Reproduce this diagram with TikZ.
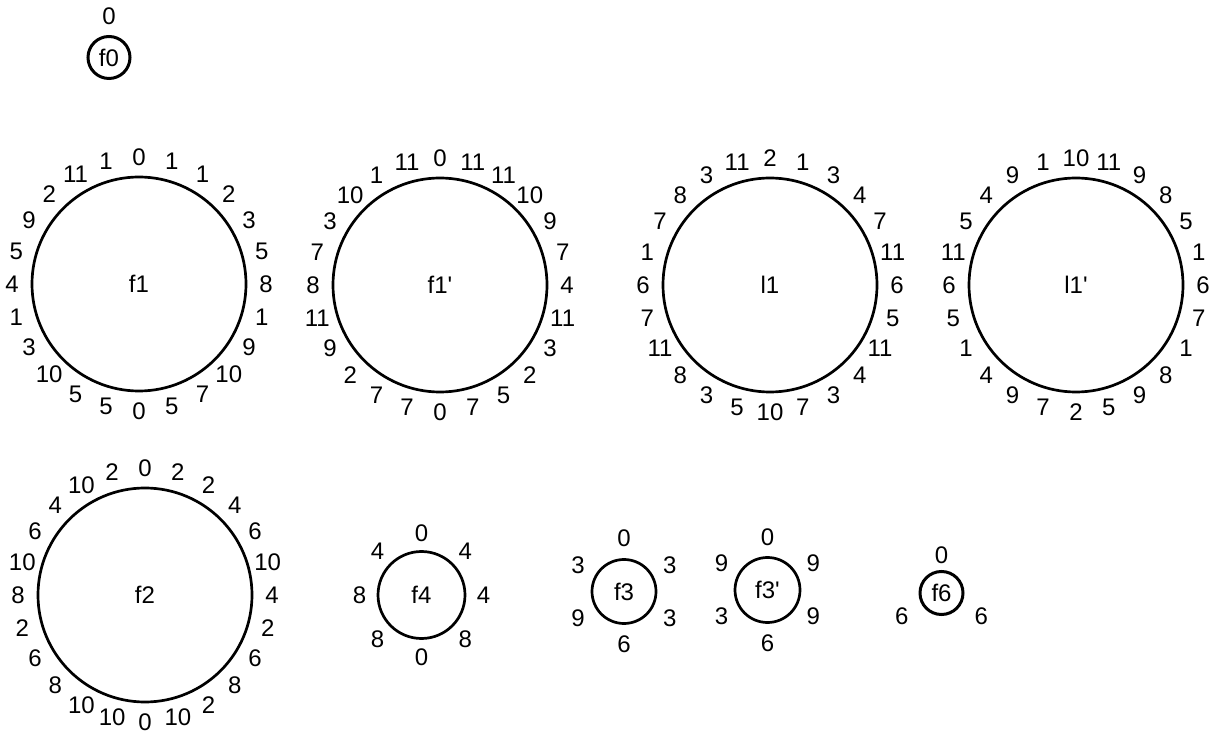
\documentclass[tikz,border=0pt]{standalone}
\usepackage{fontspec}
\setmainfont{Liberation Sans}
\usetikzlibrary{calc}
\tikzset{
  ringc/.style={circle, draw, line width=2.7pt, minimum size=#1, inner sep=0pt, font=\fontsize{24}{24}\selectfont},
  lab/.style={inner sep=0pt, font=\fontsize{24}{24}\selectfont}
}
\newcommand{\ringlabels}[4]{% node name, label radius, angle step, list
  \foreach \t [count=\i from 0] in {#4}
    \node[lab] (#1-\i) at ($(#1.center)+({90-#3*\i}:#2)$) {\t};
}
\begin{document}
\begin{tikzpicture}[x=1pt,y=1pt]
\useasboundingbox (0,0) rectangle (1220,739);
% f0
\node[ringc=42pt, line width=3pt] (f0) at (109,681.5) {f0};
\node[lab] (f0-0) at ($(f0.center)+(90:41pt)$) {0};
% f1
\node[ringc=214pt] (f1) at (139,455) {f1};
\ringlabels{f1}{127pt}{15}{0,1,1,2,3,5,8,1,9,10,7,5,0,5,5,10,3,1,4,5,9,2,11,1}
% f1'
\node[ringc=214pt] (f1p) at (440,454) {f1\textquotesingle};
\ringlabels{f1p}{127pt}{15}{0,11,11,10,9,7,4,11,3,2,5,7,0,7,7,2,9,11,8,7,3,10,1,11}
% l1
\node[ringc=214pt] (l1) at (770,454) {l1};
\ringlabels{l1}{127pt}{15}{2,1,3,4,7,11,6,5,11,4,3,7,10,5,3,8,11,7,6,1,7,8,3,11}
% l1'
\node[ringc=214pt] (l1p) at (1076,454) {l1\textquotesingle};
\ringlabels{l1p}{127pt}{15}{10,11,9,8,5,1,6,7,1,8,9,5,2,7,9,4,1,5,6,11,5,4,9,1}
% f2
\node[ringc=214pt] (f2) at (145,144) {f2};
\ringlabels{f2}{127pt}{15}{0,2,2,4,6,10,4,2,6,8,2,10,0,10,10,8,6,2,8,10,6,4,10,2}
% f4
\node[ringc=87pt] (f4) at (421.5,144) {f4};
\ringlabels{f4}{62pt}{45}{0,4,4,8,0,8,8,4}
% f3
\node[ringc=64pt] (f3) at (624,147.5) {f3};
\ringlabels{f3}{53pt}{60}{0,3,3,6,9,3}
% f3'
\node[ringc=65pt] (f3p) at (767.5,149) {f3\textquotesingle};
\ringlabels{f3p}{53pt}{60}{0,9,9,6,3,9}
% f6
\node[ringc=43pt, line width=3pt] (f6) at (941.5,146) {f6};
\node[lab] (f6-0) at ($(f6.center)+(90:38pt)$) {0};
\node[lab] (f6-1) at ($(f6.center)+(-30:46pt)$) {6};
\node[lab] (f6-2) at ($(f6.center)+(210:46pt)$) {6};
\end{tikzpicture}
\end{document}
